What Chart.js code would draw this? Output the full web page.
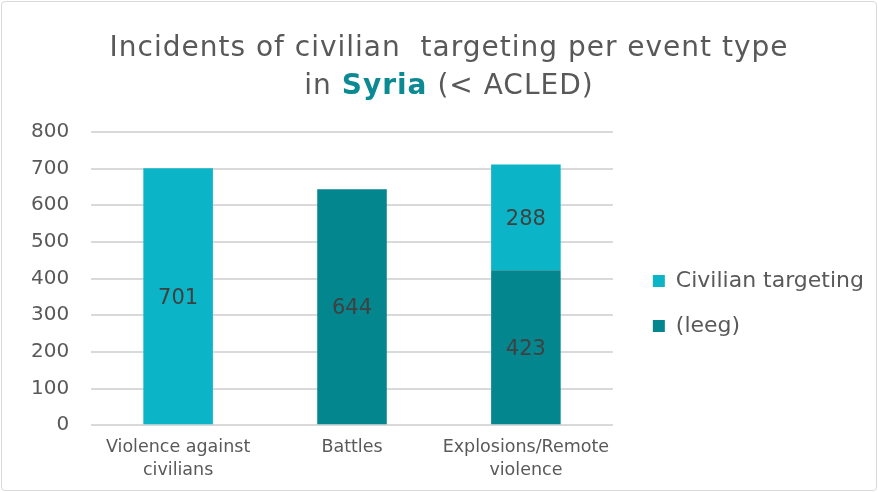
<!DOCTYPE html>
<html>
<head>
  <title>Incidents of civilian targeting</title>
  <script src="https://cdn.jsdelivr.net/npm/chart.js"></script>
  <style>
    html, body { margin: 0; padding: 0; background: #fff; overflow: hidden; }
    #wrap {
      position: relative;
      width: 874px;
      height: 488px;
      margin: 1px;
      border: 1px solid #d9d9d9;
      border-radius: 4px;
      font-family: "DejaVu Sans", Verdana, sans-serif;
    }
    #title {
      position: absolute;
      left: 20px; right: 0; top: 26px;
      text-align: center;
      font-size: 28px;
      letter-spacing: 1px;
      line-height: 38px;
      color: #595959;
    }
    #title b { color: #0b8a93; }
    #chartBox { position: absolute; left: 0; top: 0; width: 874px; height: 491px; }
  </style>
</head>
<body>
  <div id="wrap">
    <div id="chartBox"><canvas id="barChart"></canvas></div>
    <div id="title">Incidents of civilian &nbsp;targeting per event type<br>in <b>Syria</b> (&lt; ACLED)</div>
  </div>

  <script>
    const categories = [["Violence against", "civilians"], "Battles", ["Explosions/Remote", "violence"]];
    const civilianTargeting = [701, null, 288];
    const leeg = [null, 644, 423];
    const yTicks = [0, 100, 200, 300, 400, 500, 600, 700, 800];

    const FONT = '"DejaVu Sans", Verdana, sans-serif';

    // nudge the legend away from the plot, like the original
    const legendShift = {
      id: 'legendShift',
      afterLayout(chart) {
        chart.legend.left += 17;
        chart.legend.right += 17;
        chart.legend.top -= 9;
        chart.legend.bottom -= 9;
      }
    };

    // draw the value in the middle of each bar segment
    const barLabels = {
      id: 'barLabels',
      afterDatasetsDraw(chart) {
        const ctx = chart.ctx;
        ctx.save();
        ctx.font = '21px ' + FONT;
        ctx.fillStyle = '#404040';
        ctx.textAlign = 'center';
        ctx.textBaseline = 'middle';
        chart.data.datasets.forEach((ds, i) => {
          chart.getDatasetMeta(i).data.forEach((bar, j) => {
            const v = ds.data[j];
            if (v == null) return;
            ctx.fillText(String(v), bar.x, (bar.y + bar.base) / 2 + 2);
          });
        });
        ctx.restore();
      }
    };

    const ctx = document.getElementById('barChart').getContext('2d');
    new Chart(ctx, {
      type: 'bar',
      data: {
        labels: categories,
        datasets: [
          { label: '(leeg)', data: leeg, backgroundColor: '#04868f' },
          { label: 'Civilian targeting', data: civilianTargeting, backgroundColor: '#0bb4c6' }
        ]
      },
      options: {
        responsive: true,
        maintainAspectRatio: false,
        animation: false,
        layout: { padding: { top: 130, left: 7, right: 19, bottom: 0 } },
        datasets: { bar: { categoryPercentage: 1.0, barPercentage: 0.4 } },
        plugins: {
          title: { display: false },
          tooltip: { enabled: false },
          legend: {
            position: 'right',
            reverse: true,
            maxWidth: 320,
            labels: {
              boxWidth: 12,
              boxHeight: 12,
              padding: 23,
              color: '#595959',
              font: { family: FONT, size: 22 }
            }
          }
        },
        scales: {
          x: {
            stacked: true,
            grid: { display: false, tickLength: 0 },
            border: { display: false },
            ticks: {
              color: '#595959',
              padding: 11,
              maxRotation: 0,
              font: { family: FONT, size: 17.5, lineHeight: 1.31 }
            }
          },
          y: {
            stacked: true,
            min: 0,
            max: 800,
            afterBuildTicks: (axis) => { axis.ticks = yTicks.map(v => ({ value: v })); },
            grid: { color: '#d9d9d9', lineWidth: 2, drawTicks: false },
            border: { display: false },
            ticks: {
              color: '#595959',
              padding: 22,
              font: { family: FONT, size: 20 }
            }
          }
        }
      },
      plugins: [legendShift, barLabels]
    });
  </script>
</body>
</html>
